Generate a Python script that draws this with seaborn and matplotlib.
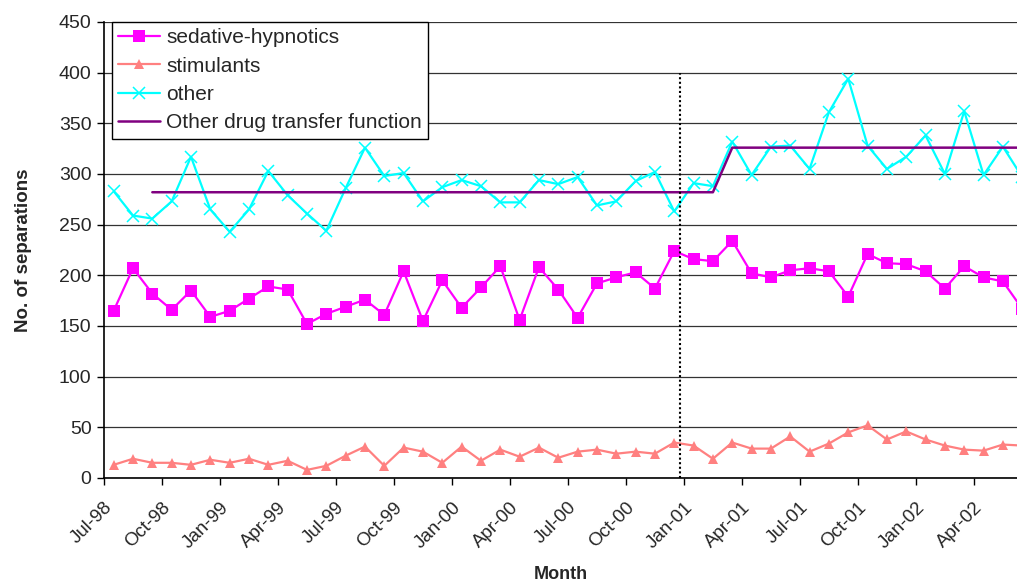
import numpy as np
import pandas as pd
import seaborn as sns
import matplotlib.pyplot as plt

# monthly values, Jul-98 .. Jun-02 (48 months)
sedative = [165, 207, 182, 166, 185, 159, 165, 177, 189, 186, 152, 162,
            169, 176, 161, 204, 155, 195, 168, 188, 209, 156, 208, 186,
            158, 192, 198, 203, 187, 224, 216, 214, 234, 202, 198, 205,
            207, 204, 179, 221, 212, 211, 204, 187, 209, 198, 194, 167]
stimulants = [13, 19, 15, 15, 13, 18, 15, 19, 13, 17, 8, 12,
              22, 31, 12, 30, 26, 15, 31, 17, 28, 21, 30, 20,
              26, 28, 24, 26, 24, 35, 32, 19, 35, 29, 29, 41,
              26, 34, 45, 52, 38, 46, 38, 32, 28, 27, 33, 32]
other = [283, 259, 256, 273, 317, 265, 243, 265, 303, 279, 261, 244,
         286, 326, 298, 301, 273, 287, 294, 288, 272, 272, 294, 290,
         297, 269, 273, 293, 302, 263, 291, 288, 332, 299, 327, 328,
         305, 361, 394, 328, 305, 317, 338, 300, 362, 299, 327, 297]
transfer = [np.nan, np.nan] + [282] * 30 + [326] * 16

tick_labels = ['Jul-98', 'Oct-98', 'Jan-99', 'Apr-99', 'Jul-99', 'Oct-99',
               'Jan-00', 'Apr-00', 'Jul-00', 'Oct-00', 'Jan-01', 'Apr-01',
               'Jul-01', 'Oct-01', 'Jan-02', 'Apr-02']


def main():
  month = np.arange(len(sedative))
  df = pd.DataFrame({'month': month, 'sedative': sedative,
                     'stimulants': stimulants, 'other': other,
                     'transfer': transfer})

  sns.set_style("white")
  plt.rcParams['font.family'] = ['Liberation Sans', 'DejaVu Sans']

  fig = plt.figure(figsize=(10.17, 5.83), dpi=100)
  ax = fig.add_axes([104 / 1017, 1 - 478 / 583, 1 - 104 / 1017, (478 - 22) / 583])

  ax.yaxis.grid(True, color='#333333', linewidth=0.9)
  ax.set_axisbelow(True)

  sns.lineplot(data=df, x='month', y='sedative', ax=ax, color='#FF00FF',
               marker='s', markersize=8, markeredgewidth=0, linewidth=1.6,
               label='sedative-hypnotics')
  sns.lineplot(data=df, x='month', y='stimulants', ax=ax, color='#FF8080',
               marker='^', markersize=7, markeredgewidth=0, linewidth=1.6,
               label='stimulants')
  sns.lineplot(data=df, x='month', y='other', ax=ax, color='#00FFFF',
               marker='x', markersize=9, markeredgewidth=1.1,
               markeredgecolor='#00FFFF', linewidth=1.6, label='other')
  sns.lineplot(data=df, x='month', y='transfer', ax=ax, color='#800080',
               linewidth=1.8, label='Other drug transfer function')

  # intervention marker at Jan-01
  ax.vlines(29.3, 0, 400, colors='black', linestyles=(0, (1, 1.2)), linewidth=1.5)

  ax.set_xlim(-0.5, 46.73)
  ax.set_ylim(0, 450)
  ax.set_yticks(range(0, 451, 50))
  ax.set_xticks(np.arange(-0.5, 46, 3))
  ax.set_xticklabels(tick_labels, rotation=45, ha='right', rotation_mode='anchor')
  ax.tick_params(axis='both', direction='out', length=5, width=1, color='black',
                 left=True, bottom=True)
  ax.tick_params(axis='y', labelsize=14, pad=4)
  ax.tick_params(axis='x', labelsize=13.5, pad=10)

  for side in ['top', 'right']:
    ax.spines[side].set_visible(False)
  for side in ['left', 'bottom']:
    ax.spines[side].set_color('black')
    ax.spines[side].set_linewidth(1.2)

  ax.set_xlabel('Month', fontsize=13, fontweight='bold', labelpad=10)
  ax.set_ylabel('No. of separations', fontsize=13.5, fontweight='bold', labelpad=19)

  leg = ax.legend(loc='upper left', bbox_to_anchor=(8 / 913, 1.0), borderaxespad=0,
                  fontsize=15, frameon=True, fancybox=False, framealpha=1,
                  edgecolor='black', handlelength=2.0, labelspacing=0.45,
                  handletextpad=0.3, borderpad=0.3)
  leg.get_frame().set_linewidth(1)

  fig.savefig('out.png', dpi=100)


if __name__ == "__main__":
  main()
